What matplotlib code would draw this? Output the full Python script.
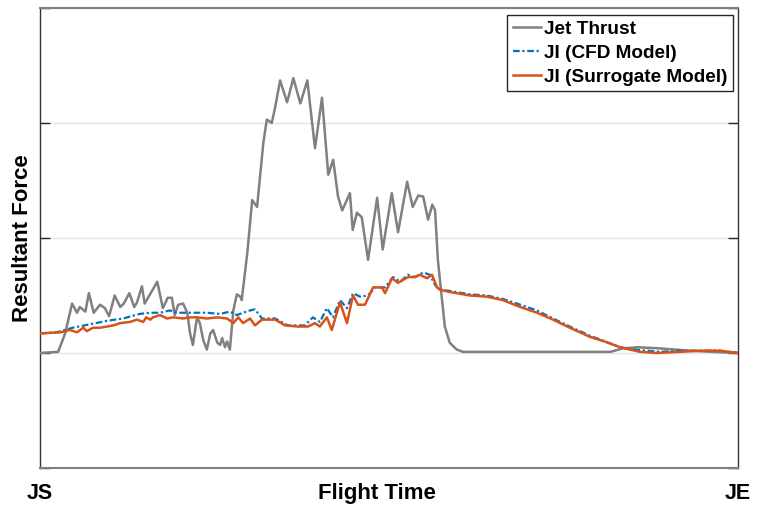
import matplotlib
matplotlib.use("Agg")
import matplotlib.pyplot as plt

# Normalised flight time (% of jet duration) and resultant force (normalised units)
jet_t = [0.0, 2.6, 3.6, 4.6, 5.3, 5.7, 6.5, 7.0, 7.7, 8.6, 9.3, 9.9, 10.7, 11.5,
         12.0, 12.8, 13.5, 13.9, 14.6, 15.0, 16.8, 17.6, 18.3, 18.9, 19.3, 19.8,
         20.5, 21.1, 21.5, 21.9, 22.5, 22.9, 23.4, 23.9, 24.4, 24.8, 25.4, 25.8,
         26.1, 26.5, 26.8, 27.2, 27.7, 28.2, 28.7, 28.9, 29.7, 30.4, 31.1, 32.0,
         32.5, 33.2, 33.7, 34.4, 35.4, 36.3, 37.3, 38.3, 39.4, 40.4, 41.3, 42.0,
         42.7, 43.3, 44.4, 44.8, 45.4, 46.1, 47.0, 48.3, 49.1, 50.4, 51.3, 52.6,
         53.4, 54.2, 54.9, 55.6, 56.2, 56.6, 57.0, 57.6, 58.0, 58.7, 59.7, 60.6,
         65.9, 71.6, 77.4, 81.7, 83.5, 85.7, 88.8, 93.1, 96.4, 100.0]
jet_f = [0.00, 0.01, 0.17, 0.43, 0.35, 0.40, 0.36, 0.52, 0.35, 0.42, 0.39, 0.32,
         0.50, 0.40, 0.43, 0.52, 0.40, 0.44, 0.58, 0.43, 0.62, 0.39, 0.48, 0.48,
         0.33, 0.42, 0.43, 0.35, 0.17, 0.07, 0.31, 0.26, 0.11, 0.03, 0.17, 0.20,
         0.09, 0.07, 0.13, 0.05, 0.10, 0.03, 0.37, 0.51, 0.49, 0.46, 0.87, 1.33,
         1.27, 1.83, 2.03, 2.00, 2.14, 2.37, 2.18, 2.39, 2.17, 2.37, 1.78, 2.22,
         1.55, 1.68, 1.36, 1.24, 1.39, 1.07, 1.22, 1.18, 0.81, 1.35, 0.90, 1.39,
         1.05, 1.49, 1.27, 1.37, 1.36, 1.16, 1.29, 1.24, 0.81, 0.46, 0.23, 0.09,
         0.03, 0.01, 0.01, 0.01, 0.01, 0.01, 0.04, 0.05, 0.04, 0.02, 0.01, 0.00]

cfd_t = [0.0, 2.4, 4.7, 7.2, 9.6, 11.9, 14.3, 15.8, 17.2, 18.6, 19.6, 21.5, 23.9,
         25.8, 27.2, 28.2, 29.1, 30.1, 30.8, 31.8, 33.7, 35.5, 36.96, 37.95, 39.1,
         40.1, 41.1, 41.97, 42.98, 43.98, 44.84, 45.85, 47.0, 48.0, 49.43, 50.57,
         51.6, 52.7, 53.7, 54.9, 55.87, 56.6, 57.3, 58.7, 61.6, 64.0, 66.3, 68.8,
         71.2, 73.5, 75.9, 78.8, 81.0, 83.1, 85.2, 87.0, 88.8, 91.7, 94.6, 97.4,
         100.0]
cfd_f = [0.17, 0.18, 0.22, 0.25, 0.28, 0.30, 0.34, 0.35, 0.35, 0.37, 0.35, 0.35,
         0.35, 0.34, 0.36, 0.33, 0.35, 0.37, 0.38, 0.30, 0.30, 0.24, 0.24, 0.24,
         0.31, 0.27, 0.39, 0.31, 0.46, 0.39, 0.52, 0.49, 0.50, 0.57, 0.57, 0.66,
         0.62, 0.68, 0.66, 0.70, 0.68, 0.59, 0.55, 0.54, 0.51, 0.50, 0.47, 0.42,
         0.37, 0.30, 0.23, 0.15, 0.10, 0.05, 0.03, 0.02, 0.01, 0.02, 0.02, 0.02,
         0.00]

sur_t = [0.0, 2.9, 4.3, 5.3, 6.2, 6.7, 7.6, 8.6, 9.6, 10.5, 11.5, 12.9, 13.9, 14.8,
         15.2, 15.8, 16.2, 17.2, 18.2, 19.1, 20.5, 21.5, 22.5, 23.9, 25.4, 26.8,
         27.7, 28.4, 29.1, 30.1, 30.8, 31.8, 33.7, 35.1, 36.96, 38.4, 39.4, 40.1,
         41.1, 41.8, 42.98, 43.98, 44.84, 45.56, 46.56, 47.71, 48.99, 49.43, 50.43,
         51.29, 52.72, 53.72, 54.44, 55.44, 56.16, 56.88, 57.31, 58.74, 61.6, 64.0,
         66.3, 68.8, 71.2, 73.5, 75.9, 78.8, 80.9, 83.1, 85.96, 88.4, 91.7, 94.6,
         97.4, 100.0]
sur_f = [0.17, 0.18, 0.20, 0.18, 0.22, 0.19, 0.22, 0.22, 0.23, 0.24, 0.26, 0.27,
         0.29, 0.27, 0.31, 0.29, 0.31, 0.33, 0.30, 0.31, 0.30, 0.31, 0.31, 0.30,
         0.31, 0.30, 0.26, 0.31, 0.26, 0.30, 0.24, 0.29, 0.29, 0.24, 0.23, 0.23,
         0.26, 0.23, 0.31, 0.20, 0.44, 0.26, 0.50, 0.42, 0.42, 0.57, 0.57, 0.52,
         0.65, 0.61, 0.66, 0.66, 0.68, 0.65, 0.68, 0.57, 0.55, 0.53, 0.50, 0.49,
         0.46, 0.40, 0.35, 0.29, 0.22, 0.14, 0.10, 0.05, 0.01, 0.00, 0.01, 0.02,
         0.02, 0.00]

x_tick_pos = [0, 100]
x_tick_labels = ["JS", "JE"]
series_names = ["Jet Thrust", "JI (CFD Model)", "JI (Surrogate Model)"]

plt.rcParams["font.family"] = ["Liberation Sans", "DejaVu Sans"]
plt.rcParams["font.weight"] = "bold"

fig = plt.figure(figsize=(7.58, 5.12), dpi=100)
ax = fig.add_axes([40 / 758, 44 / 512, 698 / 758, 460 / 512])

ax.plot(jet_t, jet_f, color="#808080", lw=1.8, label=series_names[0], zorder=3,
        solid_joinstyle="round")
ax.plot(cfd_t, cfd_f, color="#0072BD", lw=1.6, ls=(0, (3, 1.2, 1, 1.2)),
        label=series_names[1], zorder=4)
ax.plot(sur_t, sur_f, color="#D95319", lw=1.8, label=series_names[2], zorder=5,
        solid_joinstyle="round")

ax.set_xlim(0, 100)
ax.set_ylim(-1, 3)
ax.set_yticks([-1, 0, 1, 2, 3])
ax.set_yticklabels([])
ax.set_xticks(x_tick_pos)
ax.set_xticklabels(x_tick_labels, fontsize=15.5, fontweight="bold")
ax.tick_params(axis="x", length=0, pad=11)
ax.tick_params(axis="y", direction="in", length=7, width=1, color="#262626",
               right=True)
ax.grid(axis="y", color="#e3e3e3", lw=1)
ax.set_axisbelow(True)

for side in ("left", "right"):
    ax.spines[side].set_color("#333333")
    ax.spines[side].set_linewidth(1.0)
for side in ("top", "bottom"):
    ax.spines[side].set_color("#7f7f7f")
    ax.spines[side].set_linewidth(1.5)

ax.set_xlabel("Flight Time", fontsize=16, fontweight="bold")
ax.xaxis.label.set_va("center")
ax.xaxis.set_label_coords(0.483, -25 / 460)
ax.set_ylabel("Resultant Force", fontsize=16, fontweight="bold")
ax.yaxis.label.set_va("center")
ax.yaxis.set_label_coords(-17 / 698, 0.5)

leg = ax.legend(loc="upper right", bbox_to_anchor=(0.9935, 0.985),
                prop={"weight": "bold", "size": 13.7}, frameon=True,
                fancybox=False, framealpha=1, edgecolor="#262626",
                handlelength=1.5, handletextpad=0.15, borderpad=0.3,
                labelspacing=0.34, borderaxespad=0)
leg.get_frame().set_linewidth(1.0)

fig.savefig("out.png", dpi=100)
